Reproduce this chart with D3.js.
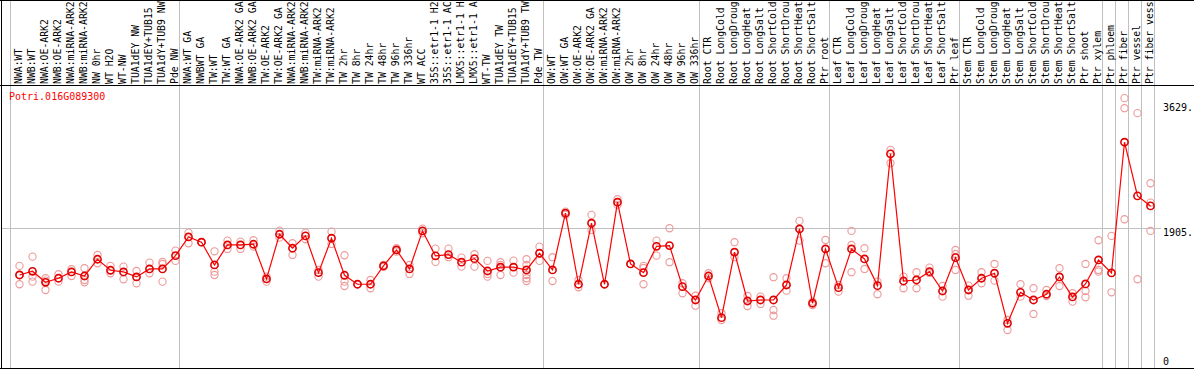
<!DOCTYPE html>
<html>
<head>
<meta charset="utf-8">
<script src="https://cdn.jsdelivr.net/npm/d3@7"></script>
<style>
  body { margin: 0; background: #fff; }
  svg { display: block; }
  text { font-family: "DejaVu Sans Mono", "Liberation Mono", monospace; }
</style>
</head>
<body>
<svg id="chart" width="1194" height="370"></svg>
<script>
var geneId = "Potri.016G089300";

// sample names as they show in the header (long ones are cut at the top edge)
var samples = [
  "NWA:WT", "NWB:WT", "NWA:OE-ARK2", "NWB:OE-ARK2", "NWA:miRNA-ARK2", "NWB:miRNA-ARK2",
  "NW 0hr", "WT H2O", "WT-NW", "TUA1dEY NW", "TUA1dEY+TUB15", "TUA1dY+TUB9 NW", "Pde NW",
  "NWA:WT GA", "NWBWT GA", "TW:WT", "TW:WT GA", "NWA:OE-ARK2 GA", "NWB:OE-ARK2 GA",
  "TW:OE-ARK2", "TW:OE-ARK2 GA", "NWA:miRNA-ARK2", "NWB:miRNA-ARK2", "TW:miRNA-ARK2",
  "TW:miRNA-ARK2", "TW 2hr", "TW 8hr", "TW 24hr", "TW 48hr", "TW 96hr", "TW 336hr", "WT ACC",
  "35S::etr1-1 H2", "35S::etr1-1 AC", "LMX5::etr1-1 H", "LMX5::etr1-1 A", "WT-TW",
  "TUA1dEY TW", "TUA1dEY+TUB15", "TUA1dY+TUB9 TW", "Pde TW",
  "OW:WT", "OW:WT GA", "OW:OE-ARK2", "OW:OE-ARK2 GA", "OW:miRNA-ARK2", "OW:miRNA-ARK2",
  "OW 2hr", "OW 8hr", "OW 24hr", "OW 48hr", "OW 96hr", "OW 336hr",
  "Root CTR", "Root LongCold", "Root LongDroug", "Root LongHeat", "Root LongSalt",
  "Root ShortCold", "Root ShortDrou", "Root ShortHeat", "Root ShortSalt", "Ptr root",
  "Leaf CTR", "Leaf LongCold", "Leaf LongDroug", "Leaf LongHeat", "Leaf LongSalt",
  "Leaf ShortCold", "Leaf ShortDrou", "Leaf ShortHeat", "Leaf ShortSalt", "Ptr leaf",
  "Stem CTR", "Stem LongCold", "Stem LongDroug", "Stem LongHeat", "Stem LongSalt",
  "Stem ShortCold", "Stem ShortDrou", "Stem ShortHeat", "Stem ShortSalt", "Ptr shoot", "Ptr xylem",
  "Ptr phloem", "Ptr fiber", "Ptr vessel", "Ptr fiber vess"
];

// sample index where each vertical separator sits
var groupBreaks = [0, 13, 41, 53, 63, 73, 84, 85, 86, 87, 88];

var means = [
  1256, 1307, 1155, 1211, 1298, 1242, 1473, 1321, 1298, 1229, 1339, 1339, 1523,
  1781, 1708, 1394, 1670, 1670, 1680, 1201, 1818, 1625, 1795, 1288, 1763, 1252, 1128, 1128,
  1381, 1601, 1339, 1864, 1519, 1537, 1432, 1481, 1311, 1363, 1363, 1325, 1556,
  1325, 2108, 1128, 1970, 1128, 2260, 1408, 1288, 1652, 1661, 1095, 911,
  1242, 667, 1570, 897, 911, 911, 1118, 1891, 866, 1615,
  1081, 1615, 1477, 1109, 2927, 1173, 1187, 1302, 1035, 1495,
  1049, 1211, 1280, 589, 1017, 911, 990, 1229, 953, 1132, 1463,
  1284, 3088, 2347, 2209
];

var replicates = [
  [1381, 1256, 1128], [1509, 1233, 1164], [1211, 1178, 1049], [1266, 1164], [1335, 1242],
  [1349, 1187, 1155], [1532, 1418], [1381, 1280], [1371, 1197], [1311, 1142], [1426, 1280],
  [1436, 1408, 1164], [1592, 1450],
  [1840, 1694], [1708], [1583, 1302, 1256], [1730, 1615], [1716, 1615], [1735, 1647],
  [1233, 1164], [1868, 1771], [1694, 1532], [1840, 1749], [1325, 1233], [1854, 1684],
  [1528, 1164, 1104], [1128], [1187, 1073], [1394, 1367], [1625, 1578], [1394, 1270],
  [1895, 1832], [1619, 1436], [1619, 1501], [1495, 1371], [1542, 1371], [1450, 1233, 1270],
  [1432, 1256, 1394], [1454, 1288], [1473, 1394, 1256, 1211, 1173], [1647, 1450],
  [1501, 1173], [2130, 2085], [1187, 1086], [2085, 1877], [1128], [2301, 2223], [1408],
  [1381, 1128, 1353], [1730, 1523], [1901, 1432], [1142, 1004], [970, 832],
  [1280, 1211], [728, 635], [1708, 1501], [966, 828], [957, 856], [1225, 773, 694],
  [1211, 1040], [2002, 1730], [888, 842], [1739, 1418],
  [1118, 1026], [1864, 1670, 1294], [1625, 1339], [1164, 990], [2982, 2798], [1233, 1073],
  [1294, 1073], [1357, 1284], [1104, 957], [1601, 1325, 1546],
  [1109, 970], [1294, 1142], [1408, 1178], [635, 497], [1128, 957], [1073, 718], [1049, 966],
  [1349, 1104], [1004, 888], [1408, 1035, 948], [1735, 1325, 1302],
  [1795, 1017], [3696, 3557, 2025], [3489, 1197], [2522, 2254, 1864]
];

var yTicks = [0, 1905, 3629];
var yTickLabels = ["0", "1905.", "3629."];

var svg = d3.select("#chart");
var W = 1194, H = 370;
var headerY = 85.5, bottomY = 368.5;

var x = d3.scaleLinear().domain([0, samples.length]).range([10, 10 + 13 * samples.length]);
var y = d3.scaleLinear().domain([0, 3629]).range([366, 103]);

var px = function(i) { return x(i) + 9.5; };

// vertical separators
svg.append("g").selectAll("line")
  .data(groupBreaks)
  .enter().append("line")
    .attr("x1", function(d) { return Math.round(x(d)) + 0.5; })
    .attr("x2", function(d) { return Math.round(x(d)) + 0.5; })
    .attr("y1", 0).attr("y2", bottomY)
    .attr("stroke", "#c0c0c0").attr("stroke-width", 1);

// horizontal grid line
svg.append("line")
  .attr("x1", 2).attr("x2", 1161)
  .attr("y1", Math.round(y(1905)) + 0.5).attr("y2", Math.round(y(1905)) + 0.5)
  .attr("stroke", "#c0c0c0").attr("stroke-width", 1);

// frame
svg.append("line").attr("x1", 0).attr("x2", W).attr("y1", headerY).attr("y2", headerY)
  .attr("stroke", "#000");
svg.append("line").attr("x1", 0).attr("x2", W).attr("y1", 0.5).attr("y2", 0.5)
  .attr("stroke", "#000");
svg.append("line").attr("x1", 0).attr("x2", W).attr("y1", bottomY).attr("y2", bottomY)
  .attr("stroke", "#000");
svg.append("line").attr("x1", 1.5).attr("x2", 1.5).attr("y1", 0).attr("y2", bottomY)
  .attr("stroke", "#000");

// sample labels
svg.append("g").selectAll("text")
  .data(samples)
  .enter().append("text")
    .attr("transform", function(d, i) { return "translate(" + (x(i) + 11.5) + ",84) rotate(-90)"; })
    .attr("font-size", "9.8px")
    .attr("fill", "#000")
    .text(function(d) { return d; });

// gene title
svg.append("text")
  .attr("x", 9).attr("y", 100)
  .attr("font-size", "10px")
  .attr("fill", "#ff0000")
  .text(geneId);

// right value labels
svg.append("g").selectAll("text")
  .data(yTicks)
  .enter().append("text")
    .attr("x", 1163)
    .attr("y", function(d) { return d === 0 ? y(d) - 1 : y(d) + 8; })
    .attr("font-size", "10px")
    .attr("fill", "#000")
    .text(function(d, i) { return yTickLabels[i]; });

// replicate points
var repPts = [];
replicates.forEach(function(r, i) {
  r.forEach(function(v) { repPts.push({i: i, v: v}); });
});

svg.append("g").selectAll("circle")
  .data(repPts)
  .enter().append("circle")
    .attr("cx", function(d) { return px(d.i); })
    .attr("cy", function(d) { return y(d.v); })
    .attr("r", 3.6)
    .attr("fill", "none")
    .attr("stroke", "#ec9a9a")
    .attr("stroke-width", 1.1);

// mean line
var line = d3.line()
  .x(function(d, i) { return px(i); })
  .y(function(d) { return y(d); });

svg.append("path")
  .datum(means)
  .attr("d", line)
  .attr("fill", "none")
  .attr("stroke", "#ff0000")
  .attr("stroke-width", 1.2);

// mean points
svg.append("g").selectAll("circle")
  .data(means)
  .enter().append("circle")
    .attr("cx", function(d, i) { return px(i); })
    .attr("cy", function(d) { return y(d); })
    .attr("r", 3.6)
    .attr("fill", "none")
    .attr("stroke", "#e00000")
    .attr("stroke-width", 1.6);
</script>
</body>
</html>
